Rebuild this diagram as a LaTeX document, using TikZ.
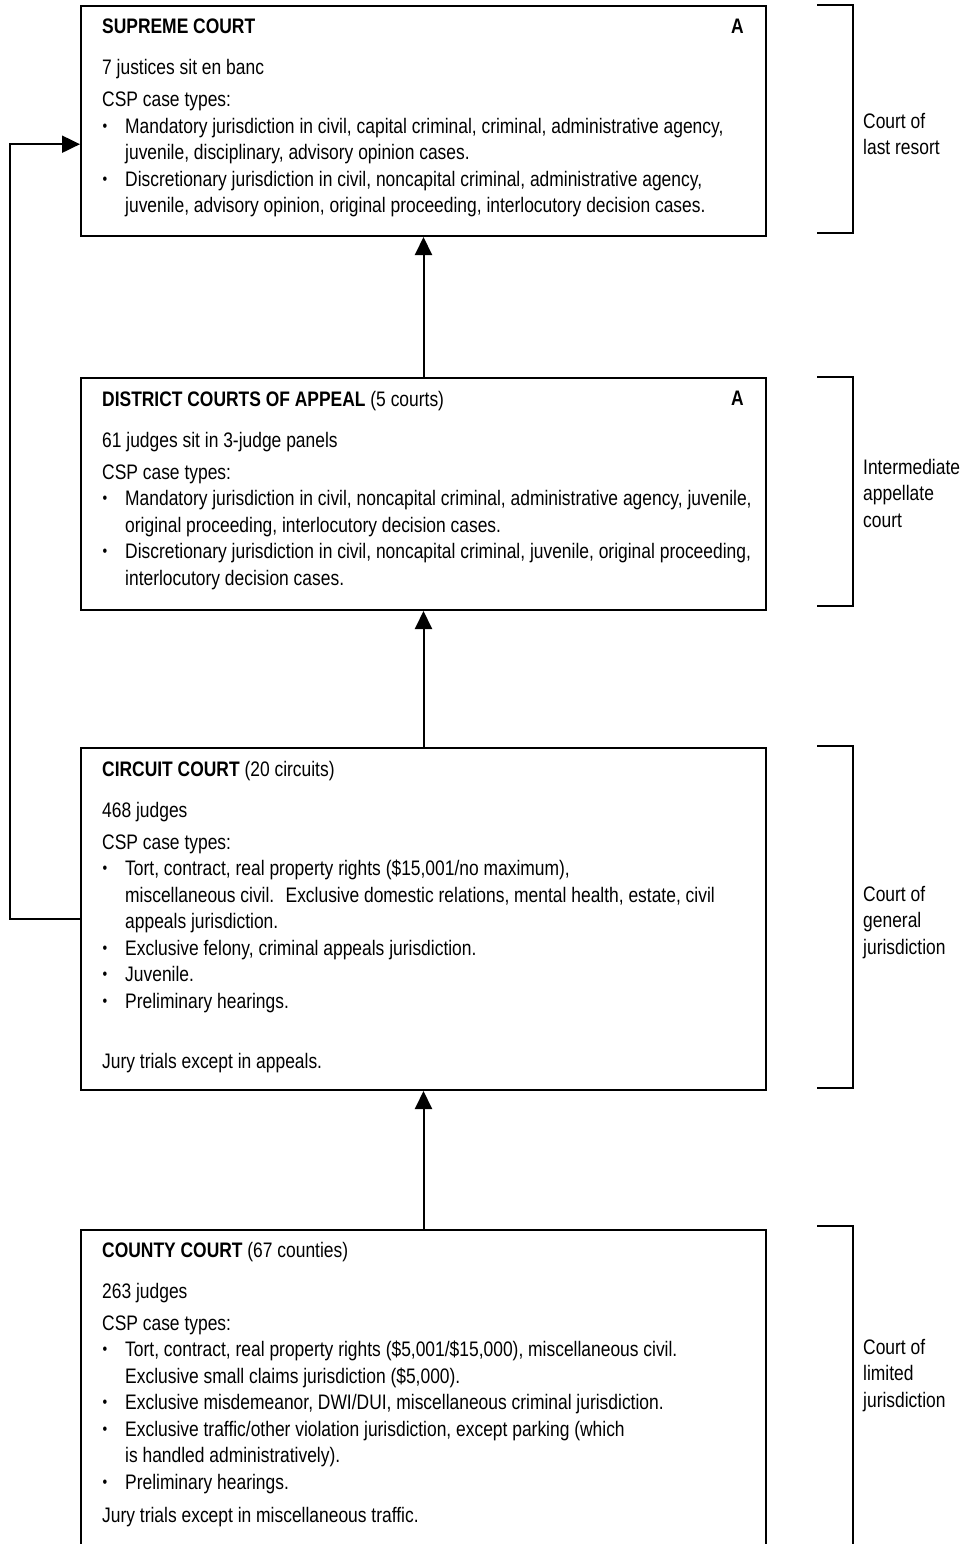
\documentclass[tikz,border=0pt]{standalone}
\usepackage{fontspec}
\setmainfont{Liberation Sans}[FakeStretch=0.83]
\usetikzlibrary{arrows.meta, positioning, calc}

\newcommand{\itembullet}{\makebox[23pt][l]{\hspace{0.5pt}\raisebox{2.2pt}{\fontsize{16}{16}\selectfont •}}}
\newcommand{\itemcont}{\hspace*{23pt}}

\begin{document}
\begin{tikzpicture}[x=1pt, y=-1pt,
  courtbox/.style={draw, line width=2pt, anchor=north west, minimum width=685pt, inner sep=0pt},
  courttext/.style={anchor=north west, align=left, inner sep=0pt, font=\fontsize{21}{26.5}\selectfont},
  levellabel/.style={anchor=north west, align=left, inner sep=0pt, font=\fontsize{21}{26.5}\selectfont},
  upflow/.style={line width=2pt, -{Triangle[length=18pt,width=17pt]}},
  bracketline/.style={line width=2pt}]
  \useasboundingbox (0,0) rectangle (964,1544);

  % Court boxes
  \node[courtbox, minimum height=230pt] (supreme) at (80,5) {};
  \node[courtbox, minimum height=232pt] (district) at (80,377) {};
  \node[courtbox, minimum height=342pt] (circuit) at (80,747) {};
  \node[courtbox, minimum height=340pt] (county) at (80,1229) {};

  % Box contents
  \node[courttext] (supremetxt) at (102,19) {%
    \textbf{SUPREME COURT}\\[14.5pt]
    7 justices sit en banc\\[5.5pt]
    CSP case types:\\
    \itembullet Mandatory jurisdiction in civil, capital criminal, criminal, administrative agency,\\
    \itemcont juvenile, disciplinary, advisory opinion cases.\\
    \itembullet Discretionary jurisdiction in civil, noncapital criminal, administrative agency,\\
    \itemcont juvenile, advisory opinion, original proceeding, interlocutory decision cases.};
  \node[courttext, anchor=north east] (supremeA) at (744,19) {\textbf{A}};

  \node[courttext] (districttxt) at (102,391) {%
    \textbf{DISTRICT COURTS OF APPEAL} (5 courts)\\[14.5pt]
    61 judges sit in 3-judge panels\\[5.5pt]
    CSP case types:\\
    \itembullet Mandatory jurisdiction in civil, noncapital criminal, administrative agency, juvenile,\\
    \itemcont original proceeding, interlocutory decision cases.\\
    \itembullet Discretionary jurisdiction in civil, noncapital criminal, juvenile, original proceeding,\\
    \itemcont interlocutory decision cases.};
  \node[courttext, anchor=north east] (districtA) at (744,391) {\textbf{A}};

  \node[courttext] (circuittxt) at (102,761) {%
    \textbf{CIRCUIT COURT} (20 circuits)\\[14.5pt]
    468 judges\\[5.5pt]
    CSP case types:\\
    \itembullet Tort, contract, real property rights (\$15,001/no maximum),\\
    \itemcont miscellaneous civil.~ Exclusive domestic relations, mental health, estate, civil\\
    \itemcont appeals jurisdiction.\\
    \itembullet Exclusive felony, criminal appeals jurisdiction.\\
    \itembullet Juvenile.\\
    \itembullet Preliminary hearings.\\[33.5pt]
    Jury trials except in appeals.};

  \node[courttext] (countytxt) at (102,1242) {%
    \textbf{COUNTY COURT} (67 counties)\\[14.5pt]
    263 judges\\[5.5pt]
    CSP case types:\\
    \itembullet Tort, contract, real property rights (\$5,001/\$15,000), miscellaneous civil.\\
    \itemcont Exclusive small claims jurisdiction (\$5,000).\\
    \itembullet Exclusive misdemeanor, DWI/DUI, miscellaneous criminal jurisdiction.\\
    \itembullet Exclusive traffic/other violation jurisdiction, except parking (which\\
    \itemcont is handled administratively).\\
    \itembullet Preliminary hearings.\\[6.5pt]
    Jury trials except in miscellaneous traffic.};

  % Appeal routes
  \draw[upflow] (district.north) -- (supreme.south);
  \draw[upflow] (circuit.north) -- (district.south);
  \draw[upflow] (county.north) -- (circuit.south);
  \coordinate (supin) at ($(supreme.north west)!0.6!(supreme.south west)$);
  \draw[upflow] (circuit.west) -- ++(-70,0) |- (supin);

  % Level brackets
  \draw[bracketline] (817,5) -- (853,5) -- (853,233) -- (817,233);
  \draw[bracketline] (817,377) -- (853,377) -- (853,606) -- (817,606);
  \draw[bracketline] (817,746) -- (853,746) -- (853,1088) -- (817,1088);
  \draw[bracketline] (817,1226) -- (853,1226) -- (853,1570);

  % Level labels
  \node[levellabel] (lastresort) at (863,113) {Court of\\last resort};
  \node[levellabel] (intermediate) at (863,459) {Intermediate\\appellate\\court};
  \node[levellabel] (general) at (863,886) {Court of\\general\\jurisdiction};
  \node[levellabel] (limited) at (863,1339) {Court of\\limited\\jurisdiction};
\end{tikzpicture}
\end{document}
